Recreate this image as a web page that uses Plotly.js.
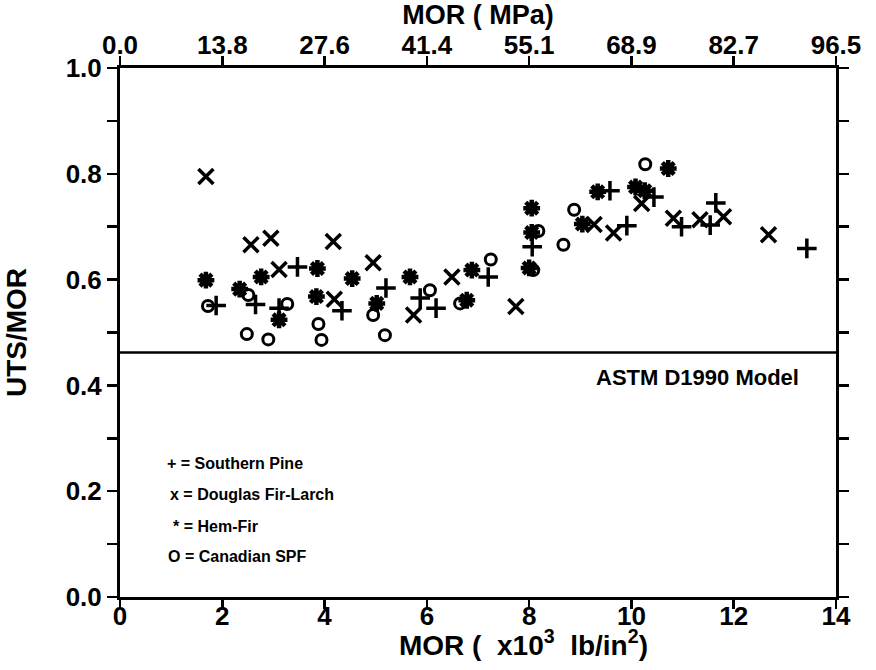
<!DOCTYPE html>
<html>
<head>
<meta charset="utf-8">
<script src="https://cdn.plot.ly/plotly-3.0.1.min.js"></script>
<style>html,body{margin:0;padding:0;background:#fff;}#chart{width:876px;height:670px;}</style>
</head>
<body>
<div id="chart"></div>
<script>
// MOR in x10^3 lb/in^2, ratio UTS/MOR
var southernPineX = [1.88,2.65,3.47,3.11,4.34,5.20,5.87,6.18,7.20,8.06,9.58,9.91,10.44,10.98,11.54,11.65,13.43];
var southernPineY = [0.551,0.553,0.624,0.546,0.541,0.584,0.565,0.546,0.605,0.662,0.768,0.702,0.756,0.700,0.703,0.745,0.659];

var douglasFirX = [1.68,2.56,2.95,3.11,4.17,4.19,4.95,5.74,6.49,7.74,9.27,9.65,10.20,10.82,11.34,11.80,12.68];
var douglasFirY = [0.795,0.666,0.678,0.619,0.672,0.563,0.632,0.533,0.605,0.549,0.704,0.688,0.744,0.716,0.713,0.719,0.685];

var hemFirX = [1.68,2.34,2.76,3.11,3.86,3.84,4.54,5.02,5.67,6.78,6.88,8.05,8.05,8.00,9.04,9.34,10.08,10.26,10.72];
var hemFirY = [0.599,0.582,0.605,0.524,0.621,0.568,0.602,0.555,0.605,0.561,0.618,0.735,0.689,0.622,0.705,0.766,0.775,0.768,0.810];

var canadianSPFX = [1.72,2.51,2.48,2.90,3.27,3.88,3.94,4.95,5.18,6.06,6.65,7.25,8.18,8.08,8.67,8.88,10.27];
var canadianSPFY = [0.550,0.571,0.497,0.487,0.554,0.516,0.486,0.533,0.495,0.580,0.555,0.638,0.692,0.618,0.666,0.732,0.818];

var astmX = [0, 14];
var astmY = [0.462, 0.462];

var bottomTickVals = [0,2,4,6,8,10,12,14];
var bottomTickText = ["0","2","4","6","8","10","12","14"];
var topTickText = ["0.0","13.8","27.6","41.4","55.1","68.9","82.7","96.5"];

var legendLabels = ["+ = Southern Pine","x = Douglas Fir-Larch","* = Hem-Fir","O = Canadian SPF"];

var FONT = "Liberation Sans, Arial, Helvetica, sans-serif";

var traces = [
  {x: astmX, y: astmY, mode: 'lines', line: {color: '#000', width: 2.5}, hoverinfo: 'skip'},
  {x: southernPineX, y: southernPineY, mode: 'markers', name: 'Southern Pine',
   marker: {symbol: 'cross-thin-open', size: 14, color: '#000', line: {color: '#000', width: 3.5}}},
  {x: douglasFirX, y: douglasFirY, mode: 'markers', name: 'Douglas Fir-Larch',
   marker: {symbol: 'x-thin-open', size: 15, color: '#000', line: {color: '#000', width: 3.5}}},
  {x: hemFirX, y: hemFirY, mode: 'markers', name: 'Hem-Fir',
   marker: {symbol: 'asterisk-open', size: 14, color: '#000', line: {color: '#000', width: 4.5}}},
  {x: canadianSPFX, y: canadianSPFY, mode: 'markers', name: 'Canadian SPF',
   marker: {symbol: 'circle-open', size: 11, color: '#000', line: {color: '#000', width: 3}}},
  {x: [0], y: [0], xaxis: 'x2', mode: 'markers', marker: {opacity: 0}, hoverinfo: 'skip'}
];

var legendPos = [
  {x: 0.88, y: 0.252},
  {x: 0.94, y: 0.193},
  {x: 0.99, y: 0.134},
  {x: 0.90, y: 0.076}
];

var annotations = legendLabels.map(function(t, i){
  return {x: legendPos[i].x, y: legendPos[i].y, xref: 'x', yref: 'y', text: t, showarrow: false,
          xanchor: 'left', yanchor: 'middle', font: {family: FONT, size: 16, color: '#000', weight: 'bold'}};
});
annotations.push({x: 11.3, y: 0.414, xref: 'x', yref: 'y', text: 'ASTM D1990 Model', showarrow: false,
  xanchor: 'center', yanchor: 'middle', font: {family: FONT, size: 22, color: '#000', weight: 'bold'}});
annotations.push({x: 0.563, y: -0.087, xref: 'paper', yref: 'paper',
  text: 'MOR (  x10<sup>3</sup>  lb/in<sup>2</sup>)', showarrow: false,
  xanchor: 'center', yanchor: 'middle', font: {family: FONT, size: 28, color: '#000', weight: 'bold'}});

var layout = {
  width: 876, height: 670,
  margin: {l: 120, r: 40, t: 68, b: 73, pad: 0},
  paper_bgcolor: '#fff', plot_bgcolor: '#fff',
  showlegend: false,
  font: {family: FONT, color: '#000'},
  xaxis: {
    range: [0, 14], tickvals: bottomTickVals, ticktext: bottomTickText,
    ticks: 'outside', ticklen: 9, tickwidth: 2.5, tickcolor: '#000', ticklabelstandoff: -15,
    showline: true, linewidth: 3, linecolor: '#000', mirror: false,
    showgrid: false, zeroline: false,
    tickfont: {family: FONT, size: 26, color: '#000', weight: 'bold'}
  },
  xaxis2: {
    overlaying: 'x', side: 'top', range: [0, 14], tickvals: bottomTickVals, ticktext: topTickText,
    ticks: 'outside', ticklen: 9, tickwidth: 2.5, tickcolor: '#000', ticklabelstandoff: -8,
    showline: true, linewidth: 3, linecolor: '#000',
    showgrid: false, zeroline: false,
    tickfont: {family: FONT, size: 26, color: '#000', weight: 'bold'},
    title: {text: 'MOR ( MPa)', standoff: 0, font: {family: FONT, size: 27, color: '#000', weight: 'bold'}}
  },
  yaxis: {
    range: [0, 1], dtick: 0.2, tickformat: '.1f',
    ticks: 'outside', ticklen: 10, tickwidth: 2.5, tickcolor: '#000',
    minor: {dtick: 0.1, ticks: 'outside', ticklen: 8, tickwidth: 2.5, tickcolor: '#000'},
    showline: true, linewidth: 3, linecolor: '#000', mirror: 'allticks',
    showgrid: false, zeroline: false,
    tickfont: {family: FONT, size: 26, color: '#000', weight: 'bold'},
    title: {text: 'UTS/MOR', standoff: 31, font: {family: FONT, size: 28, color: '#000', weight: 'bold'}}
  },
  annotations: annotations
};

Plotly.newPlot('chart', traces, layout, {displayModeBar: false, staticPlot: true});
</script>
</body>
</html>
